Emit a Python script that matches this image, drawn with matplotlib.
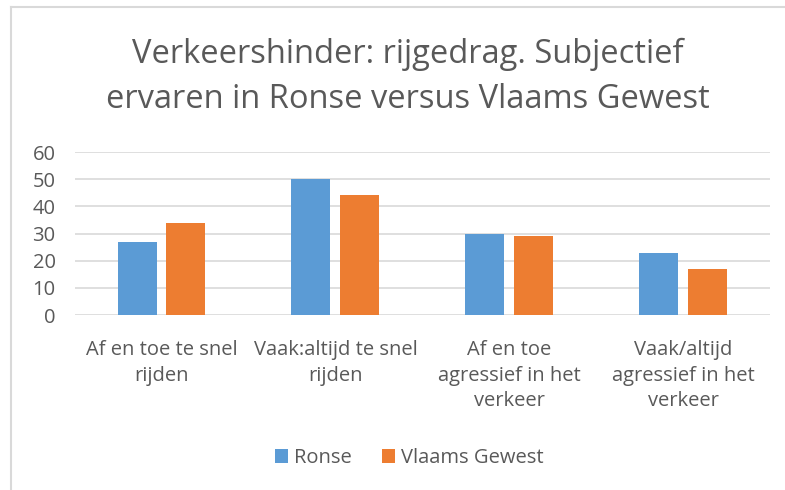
import matplotlib.pyplot as plt
from matplotlib.lines import Line2D
import numpy as np

categories = ["Af en toe te snel\nrijden", "Vaak:altijd te snel\nrijden",
              "Af en toe\nagressief in het\nverkeer", "Vaak/altijd\nagressief in het\nverkeer"]
ronse = [27, 50, 30, 23]
vlaams = [34, 44, 29, 17]
series_names = ["Ronse", "Vlaams Gewest"]
yticks = [0, 10, 20, 30, 40, 50, 60]

blue = "#5B9BD5"
orange = "#ED7D31"
txt = "#595959"
grid = "#D9D9D9"

plt.rcParams['font.family'] = ['Open Sans', 'DejaVu Sans']

fig = plt.figure(figsize=(7.85, 4.9), dpi=100)
ax = fig.add_axes([75/785, 1-315/490, 695/785, 163/490])

x = np.arange(len(categories))
w = 0.225
ax.bar(x - 0.142, ronse, w, color=blue, label=series_names[0], zorder=3)
ax.bar(x + 0.138, vlaams, w, color=orange, label=series_names[1], zorder=3)

ax.set_xlim(-0.5, 3.5)
ax.set_ylim(0, 60)
ax.set_yticks(yticks)
ax.yaxis.grid(True, color=grid, linewidth=1.2, zorder=0)
for s in ax.spines.values():
    s.set_visible(False)
ax.tick_params(axis='both', length=0, colors=txt, labelsize=14.5)
ax.tick_params(axis='y', pad=14)
ax.tick_params(axis='x', pad=18)
ax.set_xticks(x)
ax.set_xticklabels(categories, linespacing=1.38, va='top')

fig.text(0.52, 0.843, "Verkeershinder: rijgedrag. Subjectief\nervaren in Ronse versus Vlaams Gewest",
         ha='center', va='center', fontsize=23.5, color=txt, linespacing=1.45)

leg = fig.legend(loc='center', bbox_to_anchor=(0.521, 0.065), ncol=2, frameon=False,
                 fontsize=14.5, handlelength=0.65, handleheight=0.65, columnspacing=1.5,
                 handletextpad=0.3)
for t in leg.get_texts():
    t.set_color(txt)

# chart border (cropped on right and bottom)
fig.add_artist(Line2D([10.5/785, 10.5/785], [0, 1-7/490], transform=fig.transFigure, color=grid, linewidth=1.5))
fig.add_artist(Line2D([10.5/785, 1], [1-7/490, 1-7/490], transform=fig.transFigure, color=grid, linewidth=1.5))

fig.savefig("out.png", dpi=100)
